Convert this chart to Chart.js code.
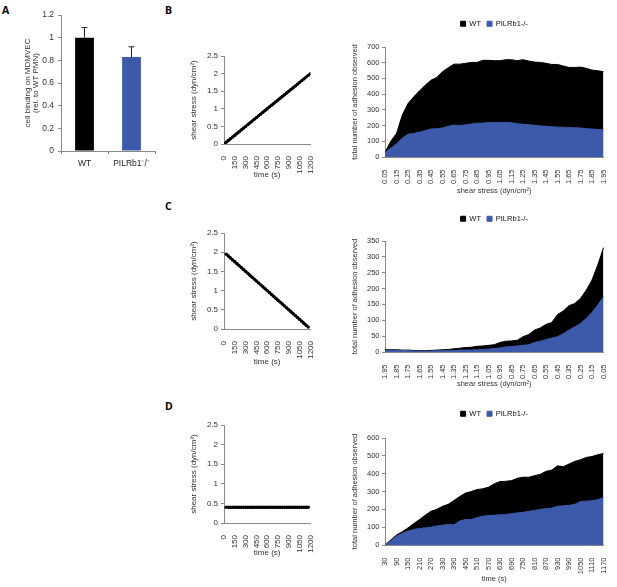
<!DOCTYPE html>
<html>
<head>
<meta charset="utf-8">
<script src="https://cdn.jsdelivr.net/npm/chart.js@4.4.1/dist/chart.umd.min.js"></script>
<style>
html,body{margin:0;padding:0;background:#fff;overflow:hidden;}
#fig{position:relative;width:617px;height:587px;}
canvas{position:absolute;}
.tag{position:absolute;font:bold 10.5px "Open Sans",sans-serif;line-height:1;color:#000;}
</style>
</head>
<body>
<div id="fig">
<div class="tag" style="left:2px;top:5px">A</div>
<div class="tag" style="left:165px;top:5px">B</div>
<div class="tag" style="left:165px;top:201px">C</div>
<div class="tag" style="left:165px;top:401px">D</div>
<canvas id="barA"></canvas>
<canvas id="lineB"></canvas>
<canvas id="areaB"></canvas>
<canvas id="lineC"></canvas>
<canvas id="areaC"></canvas>
<canvas id="lineD"></canvas>
<canvas id="areaD"></canvas>
</div>
<script>
// panel A
var groupsA = ['WT', 'PILRb1⁻/⁻'];
var bindingA = [1.0, 0.83];
var errorA = [0.09, 0.09];

// shear stress protocols (time in s, stress in dyn/cm2)
var timeB = [0,30,60,90,120,150,180,210,240,270,300,330,360,390,420,450,480,510,540,570,600,
  630,660,690,720,750,780,810,840,870,900,930,960,990,1020,1050,1080,1110,1140,1170,1200];
var shearB = [0,0.05,0.1,0.15,0.2,0.25,0.3,0.35,0.4,0.45,0.5,0.55,0.6,0.65,0.7,0.75,0.8,0.85,0.9,0.95,1.0,
  1.05,1.1,1.15,1.2,1.25,1.3,1.35,1.4,1.45,1.5,1.55,1.6,1.65,1.7,1.75,1.8,1.85,1.9,1.95,2.0];
var timeCD = [30,60,90,120,150,180,210,240,270,300,330,360,390,420,450,480,510,540,570,600,
  630,660,690,720,750,780,810,840,870,900,930,960,990,1020,1050,1080,1110,1140,1170];
var shearC = [1.95,1.9,1.85,1.8,1.75,1.7,1.65,1.6,1.55,1.5,1.45,1.4,1.35,1.3,1.25,1.2,1.15,1.1,1.05,1.0,
  0.95,0.9,0.85,0.8,0.75,0.7,0.65,0.6,0.55,0.5,0.45,0.4,0.35,0.3,0.25,0.2,0.15,0.1,0.05];
var shearD = [0.4,0.4,0.4,0.4,0.4,0.4,0.4,0.4,0.4,0.4,0.4,0.4,0.4,0.4,0.4,0.4,0.4,0.4,0.4,0.4,
  0.4,0.4,0.4,0.4,0.4,0.4,0.4,0.4,0.4,0.4,0.4,0.4,0.4,0.4,0.4,0.4,0.4,0.4,0.4];
var timeTicks = [0,150,300,450,600,750,900,1050,1200];

// adhesion counts
var stressB = [0.05,0.1,0.15,0.2,0.25,0.3,0.35,0.4,0.45,0.5,0.55,0.6,0.65,0.7,0.75,0.8,0.85,0.9,0.95,1.0,
  1.05,1.1,1.15,1.2,1.25,1.3,1.35,1.4,1.45,1.5,1.55,1.6,1.65,1.7,1.75,1.8,1.85,1.9,1.95];
var wtB = [30,100,150,266,340,383,421,457,489,506,543,568,591,591,596,602,602,615,615,613,
  613,619,619,613,619,611,604,602,596,589,589,579,570,570,572,564,553,549,543];
var koB = [30,55,85,120,145,150,158,168,178,180,185,195,203,200,205,210,215,215,220,219,
  218,220,218,212,208,205,202,198,196,193,190,190,188,186,185,180,178,175,173];

var stressC = shearC;
var wtC = [7,7,7,6,6,5,4,4,5,6,7,8,10,12,14,15,18,19,21,23,
  30,34,35,37,48,55,69,76,87,93,118,129,146,153,169,195,227,274,329];
var koC = [5,5,5,5,4,3,2,2,3,4,4,5,5,6,6,6,7,8,9,11,
  13,16,17,19,21,23,30,34,39,44,48,58,69,79,90,106,125,148,174];

var wtD = [0,28,56,74,96,120,143,167,189,200,217,228,250,272,291,300,311,315,324,343,
  356,357,361,374,380,380,389,396,413,420,444,439,454,469,478,491,496,506,513];
var koD = [0,22,50,65,78,87,93,96,100,107,111,115,113,135,143,143,154,161,165,167,
  169,170,176,180,183,189,194,200,204,207,217,220,222,228,244,246,248,254,266];

var BLACK = '#000000';
var BLUE = '#3D5AAA';
var AXIS = '#8a8a8a';

Chart.defaults.font.family = '"Liberation Sans", Arial, sans-serif';
Chart.defaults.font.size = 8;
Chart.defaults.color = '#333';
Chart.defaults.animation = false;

// Excel-like number labels: 1 instead of 1.0, 1200 instead of 1,200
function plain(v) { return String(Math.round(v * 100) / 100); }

function place(id, left, top, w, h) {
  var c = document.getElementById(id);
  c.style.left = left + 'px';
  c.style.top = top + 'px';
  c.width = w;
  c.height = h;
  c.style.width = w + 'px';
  c.style.height = h + 'px';
  return c;
}

function legendHeight(h) {
  return {
    id: 'legendHeight',
    beforeLayout: function (chart) {
      var lg = chart.legend;
      if (!lg || lg._fixed) return;
      var fit = lg.fit;
      lg.fit = function () { fit.call(this); this.height = h; };
      lg._fixed = true;
    }
  };
}

var errorBars = {
  id: 'errorBars',
  afterDatasetsDraw: function (chart) {
    var meta = chart.getDatasetMeta(0);
    var y = chart.scales.y;
    var ctx = chart.ctx;
    ctx.save();
    ctx.strokeStyle = '#222';
    ctx.lineWidth = 1;
    meta.data.forEach(function (bar, i) {
      var top = y.getPixelForValue(bindingA[i] + errorA[i]);
      ctx.beginPath();
      ctx.moveTo(bar.x, bar.y);
      ctx.lineTo(bar.x, top);
      ctx.moveTo(bar.x - 3, top);
      ctx.lineTo(bar.x + 3, top);
      ctx.stroke();
    });
    ctx.restore();
  }
};

// A: bar chart
new Chart(place('barA', 24, 6, 135, 164), {
  type: 'bar',
  data: {
    labels: groupsA,
    datasets: [{
      data: bindingA,
      backgroundColor: [BLACK, BLUE],
      barPercentage: 0.4,
      categoryPercentage: 1
    }]
  },
  options: {
    responsive: false,
    layout: {padding: {top: 6, right: 4, left: 0, bottom: 0}},
    plugins: {legend: {display: false}, tooltip: {enabled: false}},
    scales: {
      x: {
        grid: {drawOnChartArea: false, tickLength: 3, color: AXIS},
        border: {color: AXIS},
        ticks: {padding: 5, color: '#222', font: {size: 8.5}},
        afterFit: function (s) { s.height = 19; }
      },
      y: {
        min: 0, max: 1.2,
        ticks: {stepSize: 0.2, padding: 4, font: {size: 8.5}, callback: plain},
        grid: {drawOnChartArea: false, tickLength: 3, color: AXIS},
        border: {color: AXIS},
        title: {display: true, text: ['cell binding on MDMVEC', '(rel. to WT PMN)'],
          font: {size: 8, lineHeight: 1.0}, padding: 0},
        afterFit: function (s) { s.width = 37; }
      }
    }
  },
  plugins: [errorBars]
});

function shearChart(id, top, h, xh, times, stress) {
  var pts = times.map(function (t, i) { return {x: t, y: stress[i]}; });
  return new Chart(place(id, 189, top, 135, h), {
    type: 'line',
    data: {
      datasets: [{
        data: pts,
        borderColor: BLACK,
        backgroundColor: BLACK,
        borderWidth: 2.5,
        pointRadius: 1.7,
        pointBorderWidth: 0,
        fill: false
      }]
    },
    options: {
      responsive: false,
      layout: {padding: {top: 8, right: 6, left: 0, bottom: 0}},
      plugins: {legend: {display: false}, tooltip: {enabled: false}},
      scales: {
        x: {
          type: 'linear', min: 0, max: 1200,
          afterBuildTicks: function (s) { s.ticks = timeTicks.map(function (v) { return {value: v}; }); },
          ticks: {autoSkip: false, minRotation: 90, maxRotation: 90, padding: 4, callback: plain},
          grid: {display: false},
          border: {color: AXIS},
          title: {display: true, text: 'time (s)', padding: 0},
          afterFit: function (s) { s.height = xh; }
        },
        y: {
          min: 0, max: 2.5,
          ticks: {stepSize: 0.5, padding: 3, callback: plain},
          grid: {drawOnChartArea: false, tickLength: 3, color: AXIS},
          border: {color: AXIS},
          title: {display: true, text: 'shear stress (dyn/cm²)', padding: 0},
          afterFit: function (s) { s.width = 35; }
        }
      }
    }
  });
}

function areaChart(id, top, h, legendH, xh, padR, labels, wt, ko, yMax, yStep, xTitle) {
  return new Chart(place(id, 350, top, 267, h), {
    type: 'line',
    data: {
      labels: labels,
      datasets: [
        {label: 'WT', data: wt, backgroundColor: BLACK, borderColor: BLACK,
          borderWidth: 1, pointRadius: 0, fill: 'origin', order: 2},
        {label: 'PILRb1-/-', data: ko, backgroundColor: BLUE, borderColor: BLUE,
          borderWidth: 1, pointRadius: 0, fill: 'origin', order: 1}
      ]
    },
    options: {
      responsive: false,
      layout: {padding: {top: 0, right: padR, left: 0, bottom: 0}},
      plugins: {
        tooltip: {enabled: false},
        legend: {
          position: 'top', fullSize: false,
          labels: {boxWidth: 5, boxHeight: 5, padding: 6, color: '#111', font: {size: 7.5},
            sort: function (a, b) { return a.datasetIndex - b.datasetIndex; }}
        }
      },
      scales: {
        x: {
          ticks: {autoSkip: false, minRotation: 90, maxRotation: 90, padding: 4.5, font: {size: 7.5},
            callback: function (v, i) { return i % 2 === 0 ? this.getLabelForValue(v) : ''; }},
          grid: {display: false},
          border: {color: AXIS},
          title: {display: true, text: xTitle, padding: 0, font: {size: 7.5}},
          afterFit: function (s) { s.height = xh; }
        },
        y: {
          min: 0, max: yMax,
          ticks: {stepSize: yStep, padding: 2.5, font: {size: 7.5}},
          grid: {drawOnChartArea: false, tickLength: 3, color: AXIS},
          border: {color: AXIS},
          title: {display: true, text: 'total number of adhesion observed', padding: 0, font: {size: 7.5}},
          afterFit: function (s) { s.width = 35; }
        }
      }
    },
    plugins: [legendHeight(legendH)]
  });
}

function fmt(arr) { return arr.map(function (v) { return v.toFixed(2); }); }

shearChart('lineB', 48, 132, 36, timeB, shearB);
shearChart('lineC', 225, 142, 38, timeCD, shearC);
shearChart('lineD', 417, 141, 35, timeCD, shearD);

areaChart('areaB', 14, 181, 33, 38, 6, fmt(stressB), wtB, koB, 700, 100, 'shear stress (dyn/cm²)');
areaChart('areaC', 209, 179, 32, 36, 7, fmt(stressC), wtC, koC, 350, 50, 'shear stress (dyn/cm²)');
areaChart('areaD', 404, 179, 34, 38, 7, timeCD.map(String), wtD, koD, 600, 100, 'time (s)');
</script>
</body>
</html>
